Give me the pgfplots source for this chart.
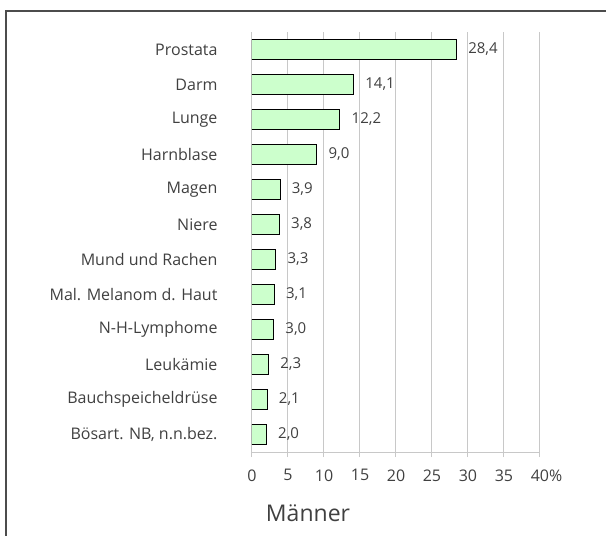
\documentclass[border=0pt]{standalone}
\usepackage{pgfplots}
\pgfplotsset{compat=1.18}
\usepackage{fontspec}
\setmainfont{Open Sans}
\definecolor{barfill}{HTML}{CCFFCC}
\definecolor{txt}{HTML}{404040}
\definecolor{gridc}{HTML}{C8C8C8}

\begin{document}
\begin{tikzpicture}[x=1pt,y=1pt]
\path[use as bounding box] (0,0) rectangle (606,536);
\draw[line width=1.2pt, black!70] (6,0) -- (6,525) -- (606,525);
\begin{axis}[
  at={(252pt,84pt)}, anchor=south west,
  width=288pt, height=420pt, scale only axis,
  xbar, bar width=20pt,
  xmin=0, xmax=40,
  xtick={0,5,...,40},
  xticklabels={0,5,10,15,20,25,30,35,40\rlap{\%}},
  ymin=-0.5, ymax=11.5, y dir=reverse,
  ytick={0,...,11},
  yticklabels={Prostata,Darm,Lunge,Harnblase,Magen,Niere,Mund und Rachen,Mal. Melanom d. Haut,N-H-Lymphome,Leukämie,Bauchspeicheldrüse,{Bösart. NB, n.n.bez.}},
  axis x line*=bottom, axis y line*=left,
  axis line style={gridc, line width=1pt},
  xmajorgrids, grid style={gridc, line width=1pt},
  tick align=outside, major tick length=5pt,
  xtick style={gridc, line width=1pt},
  ytick style={draw=none},
  tick label style={font=\fontsize{16}{19}\selectfont, text=txt},
  y tick label style={xshift=-26pt},
  x tick label style={yshift=-9pt},
  /pgf/number format/assume math mode=true,
  nodes near coords={\pgfmathprintnumber[fixed,fixed zerofill,precision=1,use comma]{\pgfplotspointmeta}},
  nodes near coords style={font=\fontsize{15}{18}\selectfont, text=txt, xshift=8pt},
]
\addplot[fill=barfill, draw=black, line width=1pt] coordinates {
  (28.4,0) (14.1,1) (12.2,2) (9.0,3) (3.9,4) (3.8,5)
  (3.3,6) (3.1,7) (3.0,8) (2.3,9) (2.1,10) (2.0,11)
};
\end{axis}
\node[font=\fontsize{23}{27}\selectfont, text=txt] at (308,23) {Männer};
\end{tikzpicture}
\end{document}
